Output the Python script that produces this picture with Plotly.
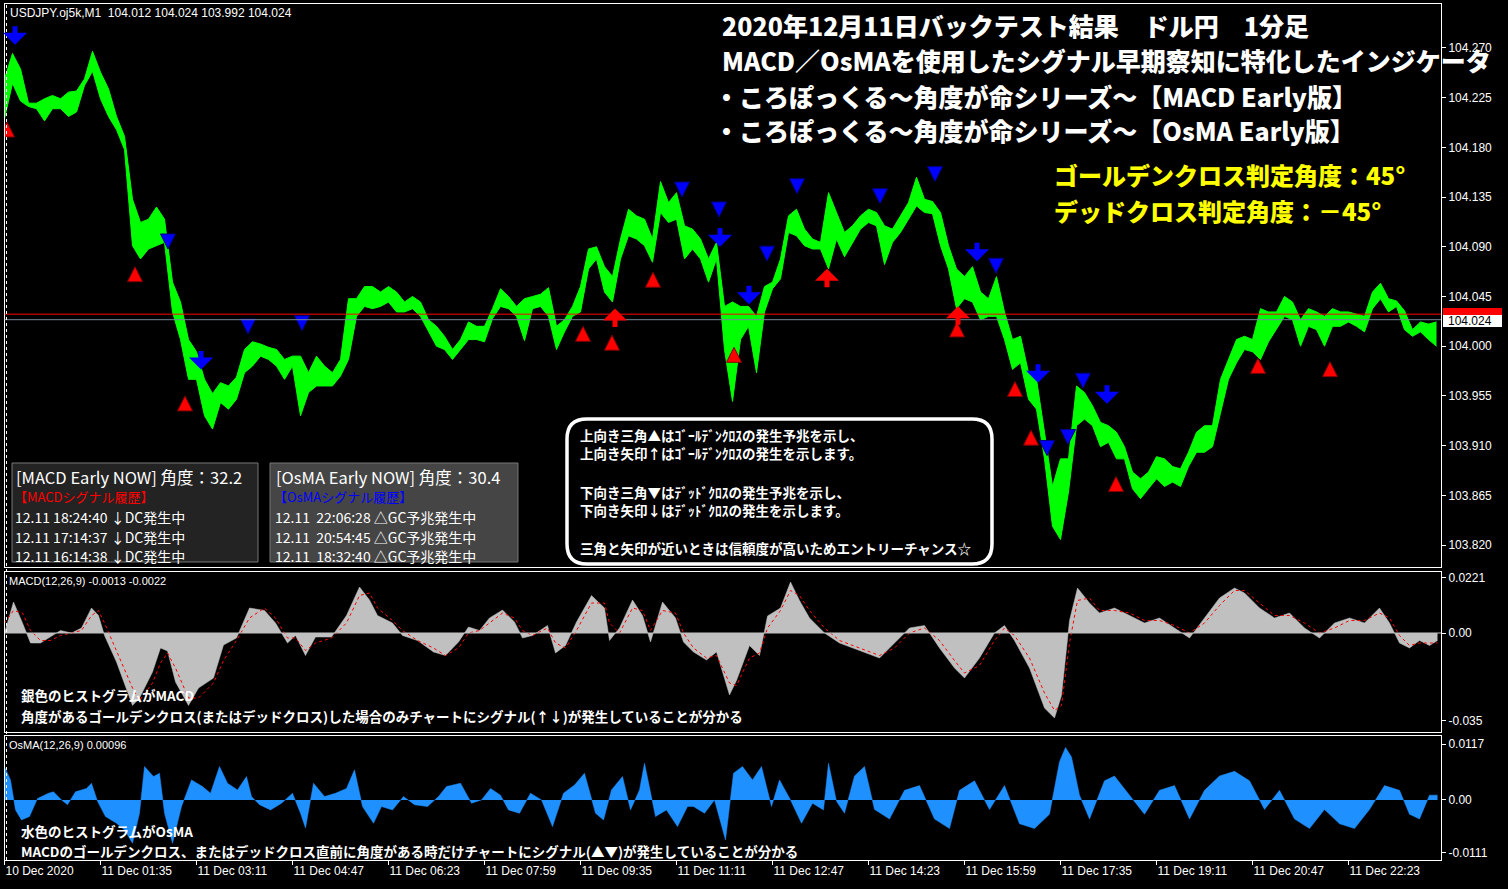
import plotly.graph_objects as go

W, H = 1508, 889

# ---------------- data ----------------
# M1 price (sampled every 8 minutes, high/low envelope)
BAR_T = list(range(0, 1440, 8))
PRICE_HI = [104.242, 104.265, 104.251, 104.220, 104.220, 104.224, 104.227, 104.224, 104.230, 104.231,
            104.242, 104.267, 104.248, 104.233, 104.208, 104.190, 104.133, 104.112, 104.115, 104.126,
            104.115, 104.058, 104.040, 104.006, 103.995, 103.970, 103.957, 103.967, 103.964, 103.972,
            103.997, 104.004, 104.002, 103.999, 103.997, 103.988, 103.991, 103.991, 103.976, 103.991,
            103.982, 103.976, 103.988, 104.043, 104.043, 104.054, 104.054, 104.049, 104.054, 104.049,
            104.040, 104.045, 104.040, 104.024, 104.018, 104.009, 103.997, 104.006, 104.022, 104.018,
            104.018, 104.034, 104.052, 104.045, 104.036, 104.043, 104.045, 104.047, 104.053, 104.018,
            104.024, 104.036, 104.054, 104.088, 104.090, 104.072, 104.063, 104.097, 104.124, 104.118,
            104.115, 104.097, 104.149, 104.130, 104.139, 104.109, 104.106, 104.097, 104.079, 104.094,
            104.036, 104.040, 104.036, 104.036, 104.027, 104.054, 104.058, 104.079, 104.118, 104.124,
            104.106, 104.097, 104.094, 104.139, 104.121, 104.103, 104.109, 104.118, 104.124, 104.121,
            104.109, 104.106, 104.118, 104.130, 104.153, 104.133, 104.131, 104.121, 104.091, 104.070,
            104.063, 104.072, 104.049, 104.043, 104.063, 104.031, 104.006, 104.009, 103.976, 103.970,
            103.922, 103.873, 103.898, 103.898, 103.964, 103.958, 103.946, 103.931, 103.928, 103.922,
            103.909, 103.886, 103.880, 103.886, 103.900, 103.898, 103.891, 103.889, 103.904, 103.922,
            103.928, 103.928, 103.970, 103.988, 104.006, 104.009, 104.006, 104.034, 104.031, 104.031,
            104.045, 104.040, 104.024, 104.034, 104.031, 104.027, 104.034, 104.031, 104.031, 104.029,
            104.027, 104.049, 104.057, 104.043, 104.041, 104.032, 104.015, 104.022, 104.020, 104.022]
PRICE_LO = [104.206, 104.238, 104.222, 104.217, 104.215, 104.204, 104.215, 104.215, 104.208, 104.212,
            104.236, 104.249, 104.224, 104.208, 104.196, 104.178, 104.091, 104.079, 104.088, 104.091,
            104.094, 104.031, 104.006, 103.970, 103.970, 103.937, 103.925, 103.949, 103.943, 103.952,
            103.976, 103.982, 103.991, 103.988, 103.982, 103.970, 103.982, 103.937, 103.958, 103.964,
            103.964, 103.964, 103.973, 103.988, 104.027, 104.036, 104.034, 104.036, 104.040, 104.031,
            104.031, 104.034, 104.027, 104.013, 104.000, 103.997, 103.988, 103.997, 104.006, 104.006,
            104.004, 104.025, 104.036, 104.034, 104.027, 104.005, 104.034, 104.036, 104.027, 103.997,
            104.013, 104.027, 104.031, 104.070, 104.079, 104.049, 104.040, 104.079, 104.100, 104.097,
            104.091, 104.076, 104.121, 104.112, 104.115, 104.079, 104.088, 104.079, 104.058, 104.079,
            103.997, 103.950, 104.006, 104.018, 103.976, 104.031, 104.052, 104.061, 104.103, 104.100,
            104.091, 104.088, 104.088, 104.070, 104.097, 104.081, 104.094, 104.106, 104.112, 104.109,
            104.074, 104.094, 104.103, 104.115, 104.127, 104.121, 104.120, 104.091, 104.070, 104.034,
            104.043, 104.040, 104.024, 104.027, 104.027, 104.006, 103.979, 103.985, 103.952, 103.943,
            103.898, 103.837, 103.825, 103.868, 103.928, 103.934, 103.928, 103.909, 103.913, 103.898,
            103.898, 103.871, 103.862, 103.871, 103.880, 103.873, 103.877, 103.873, 103.891, 103.904,
            103.904, 103.909, 103.940, 103.970, 103.985, 103.997, 103.995, 103.988, 104.004, 104.015,
            104.027, 104.024, 104.000, 104.018, 104.015, 104.000, 104.018, 104.018, 104.022, 104.018,
            104.013, 104.034, 104.043, 104.031, 104.036, 104.015, 104.009, 104.013, 104.006, 104.000]

BID = 104.024
ASK = 104.029
PRICE_TICKS = [103.820, 103.865, 103.910, 103.955, 104.000, 104.045, 104.090, 104.135, 104.180, 104.225, 104.270]

TIME_TICKS = [0, 96, 192, 288, 384, 480, 576, 672, 768, 864, 960, 1056, 1152, 1248, 1344]
TIME_LABELS = ["10 Dec 2020", "11 Dec 01:35", "11 Dec 03:11", "11 Dec 04:47", "11 Dec 06:23",
               "11 Dec 07:59", "11 Dec 09:35", "11 Dec 11:11", "11 Dec 12:47", "11 Dec 14:23",
               "11 Dec 15:59", "11 Dec 17:35", "11 Dec 19:11", "11 Dec 20:47", "11 Dec 22:23"]

# MACD histogram + signal
MACD_T = [0, 9, 18, 26, 36, 46, 56, 67, 77, 87, 94, 100, 112, 128, 135, 148, 156, 163, 171, 184,
          194, 209, 219, 232, 245, 260, 271, 283, 291, 301, 311, 327, 342, 355, 365, 373, 388, 398,
          413, 429, 441, 454, 464, 475, 485, 498, 510, 518, 528, 543, 551, 561, 572, 587, 600, 605,
          615, 628, 638, 646, 658, 671, 679, 689, 702, 712, 725, 732, 745, 755, 763, 776, 786, 795,
          805, 820, 835, 855, 875, 890, 905, 920, 935, 950, 960, 975, 990, 1000, 1010, 1025, 1040,
          1050, 1057, 1065, 1073, 1085, 1095, 1110, 1125, 1140, 1155, 1170, 1185, 1200, 1215, 1230,
          1240, 1255, 1270, 1285, 1300, 1315, 1330, 1345, 1360, 1375, 1385, 1395, 1405, 1415, 1425, 1433]
MACD_V = [0.0000, 0.0124, 0.0040, -0.0040, -0.0040, -0.0016, 0.0010, 0.0000, 0.0020, 0.0100, 0.0070,
          -0.0010, -0.0116, -0.0290, -0.0260, -0.0156, -0.0060, -0.0072, -0.0196, -0.0290, -0.0220,
          -0.0180, -0.0048, -0.0020, 0.0100, 0.0090, 0.0040, -0.0040, -0.0010, -0.0090, -0.0016,
          -0.0016, 0.0070, 0.0184, 0.0132, 0.0070, 0.0040, -0.0010, -0.0030, -0.0076, -0.0090,
          -0.0036, 0.0024, 0.0010, 0.0060, 0.0092, 0.0044, -0.0020, -0.0010, 0.0030, -0.0080,
          -0.0050, 0.0044, 0.0150, 0.0100, -0.0030, 0.0020, 0.0132, 0.0070, -0.0036, 0.0124,
          0.0060, -0.0036, -0.0076, -0.0108, -0.0076, -0.0248, -0.0190, -0.0050, -0.0090, 0.0068,
          0.0100, 0.0204, 0.0130, 0.0060, 0.0000, -0.0040, -0.0070, -0.0100, -0.0040, 0.0020,
          0.0030, -0.0060, -0.0140, -0.0180, -0.0100, 0.0000, 0.0030, -0.0030, -0.0140, -0.0300,
          -0.0340, -0.0250, 0.0050, 0.0180, 0.0120, 0.0080, 0.0100, 0.0070, 0.0040, 0.0060, 0.0020,
          -0.0020, 0.0060, 0.0140, 0.0180, 0.0160, 0.0100, 0.0060, 0.0080, 0.0020, -0.0020, 0.0040,
          0.0060, 0.0040, 0.0100, 0.0040, -0.0040, -0.0060, -0.0030, -0.0050, -0.0030]
SIGNAL_V = [0.0040, 0.0090, 0.0080, 0.0010, -0.0030, -0.0030, -0.0010, 0.0000, 0.0010, 0.0070, 0.0090,
            0.0040, -0.0070, -0.0220, -0.0270, -0.0200, -0.0120, -0.0080, -0.0140, -0.0260, -0.0260,
            -0.0200, -0.0110, -0.0030, 0.0060, 0.0100, 0.0060, -0.0020, -0.0020, -0.0070, -0.0040,
            -0.0020, 0.0040, 0.0150, 0.0160, 0.0100, 0.0050, 0.0010, -0.0030, -0.0060, -0.0090,
            -0.0060, 0.0000, 0.0010, 0.0040, 0.0080, 0.0060, 0.0010, -0.0010, 0.0020, -0.0040,
            -0.0060, 0.0010, 0.0120, 0.0120, 0.0040, 0.0000, 0.0100, 0.0090, 0.0010, 0.0090,
            0.0080, 0.0000, -0.0060, -0.0100, -0.0090, -0.0200, -0.0210, -0.0100, -0.0080, 0.0020,
            0.0090, 0.0170, 0.0150, 0.0090, 0.0020, -0.0030, -0.0060, -0.0090, -0.0060, 0.0000,
            0.0020, -0.0030, -0.0110, -0.0160, -0.0130, -0.0030, 0.0020, -0.0010, -0.0100, -0.0240,
            -0.0310, -0.0290, -0.0040, 0.0130, 0.0140, 0.0090, 0.0090, 0.0080, 0.0050, 0.0050, 0.0030,
            0.0000, 0.0040, 0.0110, 0.0170, 0.0170, 0.0120, 0.0070, 0.0070, 0.0040, 0.0000, 0.0020,
            0.0050, 0.0050, 0.0080, 0.0060, -0.0010, -0.0050, -0.0040, -0.0040, -0.0040]

# OsMA histogram
OSMA_T = [0, 6, 11, 17, 25, 33, 44, 49, 57, 63, 71, 82, 87, 93, 101, 112, 120, 128, 135, 140, 149, 155,
          160, 168, 177, 187, 198, 206, 215, 223, 233, 242, 247, 255, 266, 277, 288, 296, 301, 309, 320,
          331, 342, 350, 358, 369, 377, 388, 399, 410, 423, 434, 442, 456, 467, 477, 486, 496, 504, 515,
          526, 537, 548, 559, 570, 580, 591, 599, 607, 618, 626, 635, 640, 651, 662, 673, 683, 689, 700,
          710, 721, 729, 738, 748, 757, 767, 775, 786, 797, 808, 819, 824, 832, 840, 850, 860, 870, 885,
          900, 915, 930, 945, 955, 970, 985, 1000, 1015, 1030, 1045, 1055, 1061, 1067, 1075, 1085, 1100,
          1110, 1125, 1140, 1155, 1170, 1185, 1200, 1215, 1230, 1245, 1260, 1275, 1290, 1305, 1320, 1335,
          1350, 1365, 1380, 1395, 1405, 1415, 1425, 1433]
OSMA_V = [0.0070, 0.0042, -0.0021, -0.0042, -0.0035, 0.0003, 0.0014, 0.0017, 0.0000, -0.0010, 0.0017,
          0.0024, 0.0035, -0.0003, -0.0035, -0.0049, -0.0063, -0.0091, -0.0028, 0.0070, 0.0049, 0.0056,
          -0.0028, -0.0091, -0.0014, 0.0042, 0.0028, 0.0014, 0.0070, 0.0035, 0.0021, 0.0049, 0.0007,
          -0.0010, -0.0021, -0.0007, 0.0014, -0.0028, -0.0059, 0.0035, 0.0007, 0.0014, 0.0024, 0.0063,
          -0.0014, -0.0049, -0.0014, -0.0021, 0.0007, -0.0010, -0.0014, 0.0007, 0.0028, 0.0035, -0.0007,
          0.0000, 0.0024, 0.0010, -0.0021, -0.0028, 0.0014, 0.0000, -0.0056, 0.0014, 0.0031, 0.0056,
          -0.0028, -0.0042, 0.0021, 0.0049, -0.0021, 0.0021, 0.0077, -0.0035, -0.0021, -0.0056, -0.0014,
          -0.0014, -0.0028, 0.0000, -0.0084, 0.0056, 0.0070, 0.0042, 0.0070, -0.0014, 0.0042, 0.0000,
          -0.0049, -0.0007, -0.0021, 0.0077, -0.0003, -0.0028, 0.0050, 0.0070, -0.0020, -0.0040, 0.0020,
          0.0030, -0.0040, -0.0060, 0.0020, 0.0040, -0.0020, 0.0030, -0.0050, -0.0060, -0.0030, 0.0080,
          0.0110, 0.0090, 0.0010, -0.0040, 0.0040, 0.0050, 0.0010, -0.0030, 0.0020, 0.0030, -0.0040,
          0.0020, 0.0050, 0.0060, 0.0040, -0.0020, 0.0020, -0.0040, -0.0060, -0.0020, -0.0050, -0.0060,
          -0.0020, 0.0030, 0.0020, -0.0030, -0.0040, 0.0010, 0.0010]

# Signals (minute index, price)
BIG_DOWN_T = [10.5, 196.5, 715.5, 744.5, 972.5, 1033.5, 1102.5]
BIG_DOWN_P = [104.282, 103.988, 104.099, 104.047, 104.086, 103.976, 103.957]
BIG_UP_T = [610.5, 822.5, 953.5]
BIG_UP_P = [104.025, 104.061, 104.027]
TRI_DOWN_T = [163.5, 243.5, 297.5, 677.5, 714.5, 762.5, 792.5, 875.5, 930.5, 991.5, 1078.5, 1063.5, 1042.5]
TRI_DOWN_P = [104.088, 104.011, 104.014, 104.135, 104.117, 104.077, 104.138, 104.129, 104.149, 104.066,
              103.962, 103.911, 103.901]
TRI_UP_T = [2.5, 130.5, 180.5, 578.5, 607.5, 648.5, 729.5, 952.5, 1010.5, 1026.5, 1111.5, 1253.5, 1325.5]
TRI_UP_P = [104.203, 104.072, 103.955, 104.018, 104.010, 104.067, 103.999, 104.022, 103.968, 103.924,
            103.882, 103.989, 103.986]

TITLE_LINES = ["2020年12月11日バックテスト結果　ドル円　1分足",
               "MACD／OsMAを使用したシグナル早期察知に特化したインジケータ",
               "・ころぽっくる～角度が命シリーズ～【MACD Early版】",
               "・ころぽっくる～角度が命シリーズ～【OsMA Early版】"]
ANGLE_LINES = ["ゴールデンクロス判定角度：45°", "デッドクロス判定角度：－45°"]
NOTE_LINES = ["上向き三角▲はｺﾞｰﾙﾃﾞﾝｸﾛｽの発生予兆を示し、",
              "上向き矢印↑はｺﾞｰﾙﾃﾞﾝｸﾛｽの発生を示します。",
              "下向き三角▼はﾃﾞｯﾄﾞｸﾛｽの発生予兆を示し、",
              "下向き矢印↓はﾃﾞｯﾄﾞｸﾛｽの発生を示します。",
              "三角と矢印が近いときは信頼度が高いためエントリーチャンス☆"]
MACD_BOX = ["[MACD Early NOW] 角度：32.2", "【MACDシグナル履歴】",
            "12.11 18:24:40 ↓DC発生中", "12.11 17:14:37 ↓DC発生中", "12.11 16:14:38 ↓DC発生中"]
OSMA_BOX = ["[OsMA Early NOW] 角度：30.4", "【OsMAシグナル履歴】",
            "12.11  22:06:28 △GC予兆発生中", "12.11  20:54:45 △GC予兆発生中", "12.11  18:32:40 △GC予兆発生中"]

# ---------------- helpers ----------------
def X(px):
    return px / W


def Y(py):
    return 1 - py / H


JP = "Noto Sans CJK JP"
UI = "Liberation Sans"

fig = go.Figure()

# price envelope
fig.add_trace(go.Scatter(x=BAR_T, y=PRICE_LO, mode="lines", line=dict(color="#00ff00", width=1),
                         xaxis="x", yaxis="y", showlegend=False, hoverinfo="skip"))
fig.add_trace(go.Scatter(x=BAR_T, y=PRICE_HI, mode="lines", line=dict(color="#00ff00", width=1),
                         fill="tonexty", fillcolor="#00ff00", xaxis="x", yaxis="y", showlegend=False))

# chevrons
fig.add_trace(go.Scatter(x=TRI_DOWN_T, y=TRI_DOWN_P, mode="markers", xaxis="x", yaxis="y",
                         marker=dict(symbol="arrow-down", size=15, color="#0000ff",
                                     line=dict(color="#000080", width=1)), showlegend=False))
fig.add_trace(go.Scatter(x=TRI_UP_T, y=TRI_UP_P, mode="markers", xaxis="x", yaxis="y",
                         marker=dict(symbol="arrow-up", size=15, color="#ff0000",
                                     line=dict(color="#800000", width=1)), showlegend=False))

# MACD
fig.add_trace(go.Scatter(x=MACD_T, y=MACD_V, mode="lines", line=dict(color="#c0c0c0", width=0.5),
                         fill="tozeroy", fillcolor="#c0c0c0", xaxis="x2", yaxis="y2", showlegend=False))
fig.add_trace(go.Scatter(x=MACD_T, y=SIGNAL_V, mode="lines", line=dict(color="#ff0000", width=1, dash="dot"),
                         xaxis="x2", yaxis="y2", showlegend=False))
# OsMA
fig.add_trace(go.Scatter(x=OSMA_T, y=OSMA_V, mode="lines", line=dict(color="#1e90ff", width=0.5),
                         fill="tozeroy", fillcolor="#1e90ff", xaxis="x3", yaxis="y3", showlegend=False))

xr = [0, 1436.5]
xdom = [X(4.5), X(1441)]
frame = dict(showline=True, linecolor="white", linewidth=1, mirror=True, showgrid=False, zeroline=False)
tickf = dict(family=UI, size=12, color="white")

fig.update_layout(
    width=W, height=H, margin=dict(l=0, r=0, t=0, b=0),
    paper_bgcolor="black", plot_bgcolor="black",
    xaxis=dict(domain=xdom, range=xr, anchor="y", showticklabels=False, ticks="", **frame),
    yaxis=dict(domain=[Y(567), Y(4)], range=[103.8001, 104.3098], side="right", anchor="x",
               tickvals=PRICE_TICKS, tickformat=".3f", ticks="outside", ticklen=4, tickcolor="white",
               tickfont=tickf, **frame),
    xaxis2=dict(domain=xdom, range=xr, anchor="y2", matches="x", showticklabels=False, ticks="", **frame),
    yaxis2=dict(domain=[Y(732), Y(572)], range=[-0.0396, 0.0244], side="right", anchor="x2",
                tickvals=[0.0221, 0, -0.035], ticktext=["0.0221", "0.00", "-0.035"], ticks="outside",
                ticklen=4, tickcolor="white", tickfont=tickf, **frame),
    xaxis3=dict(domain=xdom, range=xr, anchor="y3", matches="x", tickvals=TIME_TICKS, ticktext=TIME_LABELS,
                ticks="outside", ticklen=4, tickcolor="white", ticklabelposition="outside right",
                tickfont=tickf, **frame),
    yaxis3=dict(domain=[Y(860), Y(736)], range=[-0.0126, 0.0134], side="right", anchor="x3",
                tickvals=[0.0117, 0, -0.0111], ticktext=["0.0117", "0.00", "-0.0111"], ticks="outside",
                ticklen=4, tickcolor="white", tickfont=tickf, **frame),
)

shapes = []
shapes.append(dict(type="line", xref="x2", yref="y2", x0=xr[0], x1=xr[1], y0=0, y1=0,
                   line=dict(color="#c0c0c0", width=1)))
shapes.append(dict(type="line", xref="x", yref="y", x0=xr[0], x1=xr[1], y0=ASK, y1=ASK,
                   line=dict(color="#ff0000", width=1)))
shapes.append(dict(type="line", xref="x", yref="y", x0=xr[0], x1=xr[1], y0=BID, y1=BID,
                   line=dict(color="#778899", width=1)))
shapes.append(dict(type="line", xref="x", yref="paper", x0=2, x1=2, y0=Y(860), y1=Y(4),
                   line=dict(color="white", width=1, dash="dot")))
shapes.append(dict(type="rect", xref="paper", yref="paper", x0=X(12), x1=X(258), y0=Y(562), y1=Y(463),
                   fillcolor="#232323", line=dict(color="#777777", width=1)))
shapes.append(dict(type="rect", xref="paper", yref="paper", x0=X(270), x1=X(518), y0=Y(562), y1=Y(463),
                   fillcolor="#454545", line=dict(color="#777777", width=1)))


def rrect(x0, y0, x1, y1, r):
    return (f"M {X(x0 + r)},{Y(y0)} L {X(x1 - r)},{Y(y0)} Q {X(x1)},{Y(y0)} {X(x1)},{Y(y0 + r)} "
            f"L {X(x1)},{Y(y1 - r)} Q {X(x1)},{Y(y1)} {X(x1 - r)},{Y(y1)} "
            f"L {X(x0 + r)},{Y(y1)} Q {X(x0)},{Y(y1)} {X(x0)},{Y(y1 - r)} "
            f"L {X(x0)},{Y(y0 + r)} Q {X(x0)},{Y(y0)} {X(x0 + r)},{Y(y0)} Z")


shapes.append(dict(type="path", xref="paper", yref="paper", path=rrect(567, 419, 992, 564, 20),
                   fillcolor="black", line=dict(color="white", width=3.5)))
shapes.append(dict(type="rect", xref="paper", yref="paper", x0=X(1443), x1=X(1502), y0=Y(315), y1=Y(308),
                   fillcolor="#ff0000", line=dict(width=0)))
shapes.append(dict(type="rect", xref="paper", yref="paper", x0=X(1443), x1=X(1502), y0=Y(327), y1=Y(315),
                   fillcolor="white", line=dict(width=0)))
fig.update_layout(shapes=shapes)

ann = []


def text(t, x, y, size, color="white", family=JP, weight="normal", xanchor="left"):
    ann.append(dict(text=t, x=X(x), y=Y(y), xref="paper", yref="paper", xanchor=xanchor, yanchor="middle",
                    showarrow=False, font=dict(family=family, size=size, color=color, weight=weight)))


# big arrows (shaft + wide head)
for t, p in zip(BIG_DOWN_T, BIG_DOWN_P):
    ann.append(dict(x=t, y=p, xref="x", yref="y", text="", showarrow=True, ax=0, ay=-20, yshift=-10,
                    arrowhead=1, arrowsize=0.8, arrowwidth=5, arrowcolor="#0000ff"))
for t, p in zip(BIG_UP_T, BIG_UP_P):
    ann.append(dict(x=t, y=p, xref="x", yref="y", text="", showarrow=True, ax=0, ay=20, yshift=10,
                    arrowhead=1, arrowsize=0.8, arrowwidth=5, arrowcolor="#ff0000"))

text("USDJPY.oj5k,M1  104.012 104.024 103.992 104.024", 8, 13, 12, family=UI)
text(f"{BID:.3f}", 1446, 321, 12, color="black", family=UI)

for line, xx, yy in zip(TITLE_LINES, [720, 720, 712, 712], [25, 60, 96, 130]):
    text(line, xx, yy, 25, weight=900)
for line, yy in zip(ANGLE_LINES, [175, 210]):
    text(line, 1052, yy, 24, color="#ffff00", weight=900)

for line, yy in zip(NOTE_LINES, [435, 453, 492, 510, 548]):
    text(line, 578, yy, 13.5, weight="bold")

for box, x0, col in [(MACD_BOX, 14, "#ff0000"), (OSMA_BOX, 274, "#0000ff")]:
    text(box[0], x0, 477, 16.5, family=JP)
    text(box[1], x0 - 2, 496, 13, color=col)
    for line, yy in zip(box[2:], [517, 537, 556]):
        text(line, x0 - 1, yy, 14)

text("MACD(12,26,9) -0.0013 -0.0022", 7, 581, 11, family=UI)
text("OsMA(12,26,9) 0.00096", 7, 745, 11, family=UI)
text("銀色のヒストグラムがMACD", 19, 695, 13.5, weight="bold")
text("角度があるゴールデンクロス(またはデッドクロス)した場合のみチャートにシグナル(↑↓)が発生していることが分かる",
     19, 716, 13.5, weight="bold")
text("水色のヒストグラムがOsMA", 19, 831, 13.5, weight="bold")
text("MACDのゴールデンクロス、またはデッドクロス直前に角度がある時だけチャートにシグナル(▲▼)が発生していることが分かる",
     19, 851, 13.5, weight="bold")

fig.update_layout(annotations=ann)

fig.write_html("out.html", config={"displayModeBar": False},
               post_script="document.body.style.margin='0';document.body.style.overflow='hidden';")
